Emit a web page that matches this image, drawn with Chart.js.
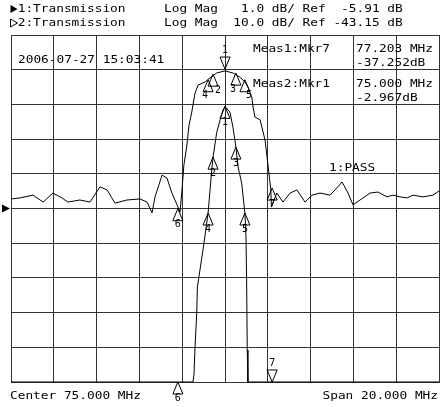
<!DOCTYPE html>
<html>
<head>
<meta charset="utf-8">
<script src="https://cdn.jsdelivr.net/npm/chart.js@4/dist/chart.umd.min.js"></script>
<style>
  html, body { margin: 0; padding: 0; background: #fff; }
  canvas { display: block; }
</style>
</head>
<body>
<canvas id="chart" width="440" height="407"></canvas>
<script>
// trace 1: Log Mag 1 dB/div, ref -5.91 dB at centre line
const trace1Freq = [65.00, 73.50, 73.55, 73.60, 73.68, 73.71, 73.83, 73.97, 74.07, 74.21, 74.38, 74.44,
    74.61, 74.77, 74.91, 75.00, 75.23, 75.37, 75.51, 75.61, 75.78, 75.93, 75.98, 76.01, 76.04, 76.07, 85.00];
const trace1Db = [-10.91, -10.91, -10.71, -9.90, -8.92, -8.17, -7.68, -7.11, -6.67, -6.04, -4.80, -4.43,
    -3.73, -3.36, -3.07, -2.97, -3.13, -3.56, -4.14, -4.71, -5.18, -6.04, -6.70, -7.97, -9.99, -10.91, -10.91];

// trace 2: Log Mag 10 dB/div, ref -43.15 dB at centre line
const trace2Freq = [65.00, 65.42, 66.03, 66.50, 66.96, 67.38, 67.66, 68.22, 68.69, 69.16, 69.49, 69.86,
    70.42, 71.03, 71.36, 71.59, 71.73, 72.06, 72.29, 72.52, 72.76, 72.90, 72.99, 73.08, 73.21, 73.32,
    73.44, 73.60, 73.74, 74.07, 74.30, 74.61, 75.00, 75.37, 75.70, 75.93, 76.07, 76.25, 76.31, 76.40,
    76.64, 76.87, 77.01, 77.14, 77.17, 77.42, 77.71, 78.04, 78.36, 78.74, 79.07, 79.44, 79.91, 80.23,
    80.47, 80.75, 80.98, 81.31, 81.78, 82.15, 82.57, 82.85, 83.18, 83.50, 83.79, 84.25, 84.72, 85.00];
const trace2Db = [-40.4, -40.1, -39.3, -41.3, -38.7, -40.1, -41.3, -40.7, -41.3, -36.9, -37.8, -41.6,
    -40.7, -40.4, -41.3, -44.4, -39.8, -33.5, -34.4, -38.7, -42.1, -44.2, -37.8, -30.6, -25.4, -19.1,
    -15.6, -9.9, -7.6, -6.7, -5.5, -4.1, -3.5, -4.1, -5.3, -6.7, -8.1, -11.0, -13.9, -16.8,
    -17.6, -23.4, -30.6, -37.8, -42.7, -38.7, -41.3, -38.7, -37.8, -41.3, -39.3, -38.7, -39.3, -37.2,
    -35.5, -38.7, -42.1, -40.7, -38.7, -38.4, -39.8, -39.3, -39.8, -40.1, -39.3, -39.8, -39.3, -38.1];

// markers are coupled: same stimulus on both traces
const markerNames = ['1', '2', '3', '4', '5', '6', '7'];
const markerFreq = [75.000, 74.44, 75.51, 74.21, 75.93, 72.797, 77.203];
const markerDb = [-2.967, -4.43, -4.14, -6.04, -6.04, -43.2, -37.252];

const headerLines = [
    '1:Transmission     Log Mag   1.0 dB/ Ref  -5.91 dB',
    '2:Transmission     Log Mag  10.0 dB/ Ref -43.15 dB',
];
const stampText = '2006-07-27 15:03:41';
const readouts = [
    ['Meas1:Mkr7', '77.203 MHz', '-37.252dB'],
    ['Meas2:Mkr1', '75.000 MHz', '-2.967dB'],
];
const limitText = '1:PASS';
const centerText = 'Center 75.000 MHz';
const spanText = 'Span 20.000 MHz';

const TRACES = [
    {axis: 'y1', active: 6, dx: [0, 0, 0, 0, 0, 0, 0]},
    {axis: 'y2', active: 0, dx: [0, 5, -3, -3, 4, 0, 0]},
];

const FONT = '11px "DejaVu Sans Mono"';
const CHAR_W = 7.7;

function drawText(ctx, str, x, y) {
    ctx.save();
    ctx.font = FONT;
    ctx.textBaseline = 'middle';
    ctx.textAlign = 'left';
    let w = ctx.measureText('0').width;
    ctx.translate(x, y);
    ctx.scale(CHAR_W / w, 1);
    ctx.fillText(str, 0, 0);
    ctx.restore();
}

function triangle(ctx, x, y, down, fill) {
    let h = down ? -12 : 12;
    ctx.beginPath();
    ctx.moveTo(x, y);
    ctx.lineTo(x - 5, y + h);
    ctx.lineTo(x + 5, y + h);
    ctx.closePath();
    if (fill) ctx.fill(); else ctx.stroke();
}

const annotations = {
    id: 'annotations',
    afterDraw(chart) {
        const ctx = chart.ctx;
        const area = chart.chartArea;
        const xs = chart.scales.x;
        ctx.save();
        ctx.fillStyle = '#000';
        ctx.strokeStyle = '#000';
        ctx.lineWidth = 1;

        // header
        triangle2(ctx, 10.5, 9, true);
        triangle2(ctx, 10.5, 23, false);
        drawText(ctx, headerLines[0], 10 + CHAR_W, 9);
        drawText(ctx, headerLines[1], 10 + CHAR_W, 23);

        drawText(ctx, stampText, 18, 60);
        readouts.forEach((r, k) => {
            let y0 = 49 + k * 34.7;
            drawText(ctx, r[0], 253, y0);
            drawText(ctx, r[1], 356, y0);
            drawText(ctx, r[2], 356, y0 + 14);
        });
        drawText(ctx, limitText, 329, 168);
        drawText(ctx, centerText, 10, 396);
        drawText(ctx, spanText, 438 - spanText.length * CHAR_W, 396);

        // reference position arrow
        let yRef = chart.scales.y2.getPixelForValue(-43.15);
        ctx.beginPath();
        ctx.moveTo(10, yRef);
        ctx.lineTo(2, yRef - 4);
        ctx.lineTo(2, yRef + 4);
        ctx.closePath();
        ctx.fill();

        // markers
        for (const tr of TRACES) {
            const ys = chart.scales[tr.axis];
            markerFreq.forEach((f, i) => {
                let px = xs.getPixelForValue(f);
                let py = ys.getPixelForValue(markerDb[i]);
                py = Math.min(Math.max(py, area.top), area.bottom);
                let down = i === tr.active;
                ctx.save();
                ctx.strokeStyle = '#000';
                triangle(ctx, px, py, down, false);
                ctx.restore();
                ctx.save();
                ctx.font = '10px "DejaVu Sans Mono"';
                ctx.textAlign = 'center';
                ctx.textBaseline = 'middle';
                ctx.fillText(markerNames[i], px + tr.dx[i], down ? py - 19 : py + 16);
                ctx.restore();
            });
        }
        ctx.restore();
    }
};

function triangle2(ctx, x, y, filled) {
    ctx.beginPath();
    ctx.moveTo(x, y - 4);
    ctx.lineTo(x + 7, y);
    ctx.lineTo(x, y + 4);
    ctx.closePath();
    if (filled) ctx.fill(); else ctx.stroke();
}

const toPoints = (fs, vs) => fs.map((f, k) => ({x: f, y: vs[k]}));

const config = {
    type: 'scatter',
    data: {
        datasets: [
            {
                label: 'Trace 1',
                data: toPoints(trace1Freq, trace1Db),
                yAxisID: 'y1',
                showLine: true,
                borderColor: '#000',
                borderWidth: 1,
                pointRadius: 0,
                clip: 3,
            },
            {
                label: 'Trace 2',
                data: toPoints(trace2Freq, trace2Db),
                yAxisID: 'y2',
                showLine: true,
                borderColor: '#000',
                borderWidth: 1,
                pointRadius: 0,
                clip: 3,
            },
        ],
    },
    options: {
        responsive: false,
        animation: false,
        layout: {padding: {left: 11, right: 1, top: 35, bottom: 25}},
        plugins: {legend: {display: false}, tooltip: {enabled: false}},
        scales: {
            x: {
                type: 'linear',
                min: 65,
                max: 85,
                ticks: {stepSize: 2, display: false},
                grid: {color: '#333', lineWidth: 1, drawTicks: false},
                border: {display: true, color: '#333'},
            },
            y1: {
                type: 'linear',
                position: 'left',
                min: -10.91,
                max: -0.91,
                ticks: {stepSize: 1, display: false},
                grid: {color: '#333', lineWidth: 1, drawTicks: false},
                border: {display: true, color: '#333'},
            },
            y2: {
                type: 'linear',
                position: 'right',
                min: -93.15,
                max: 6.85,
                ticks: {stepSize: 10, display: false},
                grid: {display: false, drawTicks: false},
                border: {display: true, color: '#333'},
            },
        },
    },
    plugins: [annotations],
};

window.addEventListener('DOMContentLoaded', () => {
    new Chart('chart', config);
});
</script>
</body>
</html>
